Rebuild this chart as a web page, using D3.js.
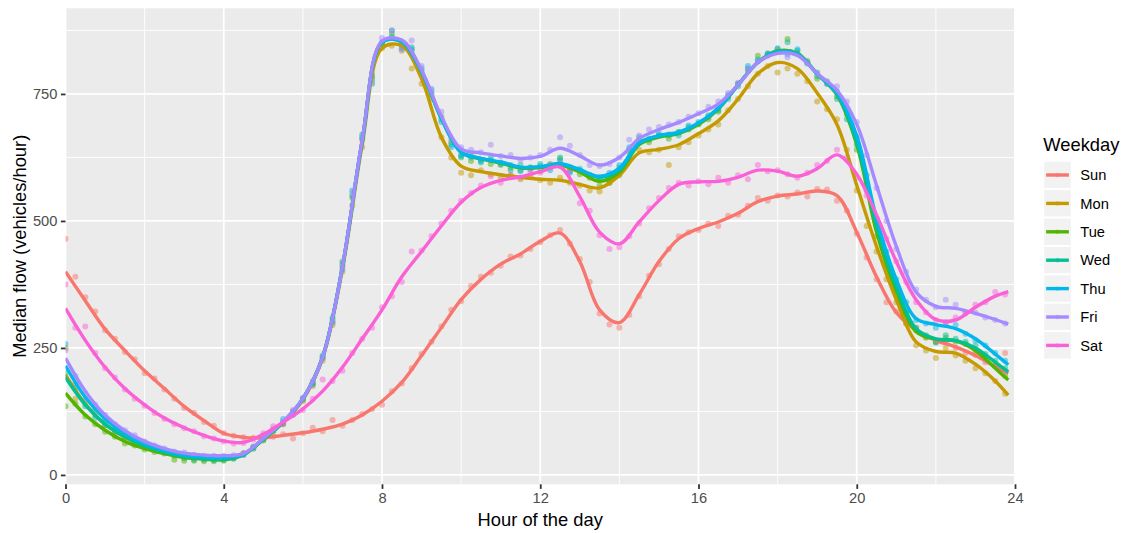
<!DOCTYPE html>
<html><head><meta charset="utf-8">
<script src="https://cdn.jsdelivr.net/npm/d3@7"></script>
<style>body{margin:0;background:#fff}</style>
</head><body>
<svg id="c" width="1125" height="533"></svg>
<script>
const days = ["Sun","Mon","Tue","Wed","Thu","Fri","Sat"];
const dayColors = ["#F8766D","#C49A00","#53B400","#00C094","#00B6EB","#A58AFF","#FB61D7"];
const xTicks = [0,4,8,12,16,20,24];
const yTicks = [0,250,500,750];
const xMinor = [2,6,10,14,18,22];
const yMinor = [125,375,625,875];

const smoothHours = [0,0.5,1,1.5,2,2.5,3,3.5,4,4.5,5,5.5,6,6.5,7,7.5,8,8.5,9,9.5,10,10.5,11,11.5,12,12.5,13,13.5,14,14.5,15,15.5,16,16.5,17,17.5,18,18.5,19,19.5,20,20.5,21,21.5,22,22.5,23,23.5,23.83];
const pointHours = [0,0.25,0.5,0.75,1,1.25,1.5,1.75,2,2.25,2.5,2.75,3,3.25,3.5,3.75,4,4.25,4.5,4.75,5,5.25,5.5,5.75,6,6.25,6.5,6.75,7,7.25,7.5,7.75,8,8.25,8.5,8.75,9,9.25,9.5,9.75,10,10.25,10.5,10.75,11,11.25,11.5,11.75,12,12.25,12.5,12.75,13,13.25,13.5,13.75,14,14.25,14.5,14.75,15,15.25,15.5,15.75,16,16.25,16.5,16.75,17,17.25,17.5,17.75,18,18.25,18.5,18.75,19,19.25,19.5,19.75,20,20.25,20.5,20.75,21,21.25,21.5,21.75,22,22.25,22.5,22.75,23,23.25,23.5,23.75];

// smoothed lines (median flow, vehicles/hour)
const smoothSun = [400,343,287,245,205,170,135,107,82,74, 73,78,83,90,100,118,145,182,235,290, 345,385,415,435,460,476,420,325,300,355, 420,465,485,498,515,538,549,553,559,550, 478,390,320,285,265,252,235,213,200];
const smoothMon = [197,140,100,74,57,45,37,33,32,40, 70,103,148,230,405,650,840,845,780,665, 608,597,591,586,582,580,572,565,590,634, 641,650,672,697,740,790,812,800,752,690, 570,450,345,262,243,240,218,185,157];
const smoothTue = [161,118,88,66,52,42,34,31,30,40, 70,103,150,233,410,658,852,855,794,702, 635,622,614,604,605,610,596,578,596,650, 665,672,690,720,768,812,835,830,790,748, 650,478,362,282,267,264,245,210,187];
const smoothWed = [192,138,100,75,57,45,36,32,31,40, 71,104,150,232,410,658,852,853,794,702, 636,623,615,605,606,612,600,586,600,652, 667,673,692,722,768,812,834,829,789,750, 655,490,370,288,268,265,250,222,203];
const smoothThu = [215,153,110,81,61,48,39,35,34,41, 71,104,150,232,410,658,852,853,794,702, 635,623,616,606,607,613,601,588,604,654, 668,675,693,722,768,812,832,828,790,752, 668,505,385,308,296,288,268,238,217];
const smoothFri = [230,165,118,87,66,52,43,39,38,42, 72,105,150,232,410,660,854,856,797,706, 642,634,628,623,627,643,628,610,625,662, 680,694,711,730,768,812,830,826,790,757, 690,570,450,360,332,328,318,306,297];
const smoothSat = [328,265,212,170,138,112,93,78,67,64, 80,104,130,165,212,268,325,390,440,490, 537,566,580,587,597,606,548,478,455,498, 540,572,577,578,586,600,598,588,603,630, 592,512,420,345,306,305,330,352,361];

// observed points (every 15 minutes)
const pointsSun = [465,390,350,322,285,268,242,228,200,190,168,150, 132,122,104,97,82,77,74,73,72,75,80,72, 82,93,86,108,97,108,120,130,138,165,180,210, 238,262,292,325,342,372,390,398,412,430,432,445, 458,472,482,455,425,380,318,296,290,315,352,392, 415,445,470,478,482,495,490,510,512,530,545,540, 550,548,556,548,563,562,540,520,475,428,385,340, 322,298,290,272,262,262,250,240,236,222,215,240];
const pointsMon = [250,150,140,118,98,85,72,62,55,50,44,40, 35,34,32,31,32,36,42,52,70,88,102,120, 145,175,225,295,400,530,645,790,840,845,835,800, 770,740,665,625,595,590,600,592,585,590,582,588, 580,575,585,575,570,560,558,575,595,625,640,635, 640,610,645,655,668,680,690,718,740,765,790,805, 792,800,790,775,735,720,700,640,560,490,440,385, 340,298,255,245,230,250,235,225,210,200,185,160];
const pointsTue = [135,140,115,100,85,75,62,58,50,45,42,30, 28,28,27,27,28,32,42,55,68,85,100,125, 148,180,230,300,415,545,660,780,850,868,845,835, 790,748,705,655,628,618,620,612,610,605,600,605, 598,612,622,605,592,585,570,575,590,635,660,655, 668,662,675,680,690,700,715,745,770,795,825,828, 838,858,830,815,780,770,745,710,640,560,470,410, 360,318,285,270,262,270,262,258,245,230,215,195];
const pointsWed = [200,170,135,112,98,86,74,64,56,50,44,38, 33,30,30,29,30,33,40,55,72,88,104,122, 150,182,232,310,420,550,665,770,848,875,850,842, 795,752,700,650,625,632,615,625,612,600,610,602, 612,605,625,598,600,590,582,580,605,640,665,660, 668,670,668,685,692,708,718,740,765,800,818,828, 832,852,835,810,785,775,740,700,650,570,490,420, 370,320,290,275,260,275,268,262,255,238,225,210];
const pointsThu = [258,180,150,128,108,96,80,70,62,55,48,42, 38,35,34,33,34,35,40,52,70,88,110,118, 150,178,235,305,405,560,670,785,852,862,840,838, 800,758,695,645,630,625,618,620,615,610,598,605, 608,600,618,595,603,590,585,595,610,645,655,662, 672,668,675,688,695,705,722,748,770,805,815,830, 840,828,838,812,792,770,755,715,665,590,505,440, 385,340,305,298,290,300,295,278,265,255,240,225];
const pointsFri = [245,195,162,138,118,100,88,78,66,58,52,46, 44,40,38,38,38,39,43,56,75,90,105,128, 152,185,230,300,410,555,662,775,860,875,838,855, 805,760,715,660,645,640,635,650,628,630,620,625, 630,640,665,648,630,610,608,612,625,660,668,680, 685,690,695,705,712,725,735,752,772,800,815,825, 835,822,828,812,790,772,765,735,695,630,565,500, 445,400,365,345,330,345,335,320,320,310,305,298];
const pointsSat = [375,290,292,240,210,192,168,150,136,122,110,100, 92,86,76,72,66,62,63,70,82,96,100,125, 128,150,188,185,205,240,268,290,330,352,380,440, 442,470,495,520,540,555,570,588,575,590,585,598, 595,610,612,600,535,520,472,445,448,470,495,525, 545,565,575,570,578,572,585,575,590,582,610,598, 600,592,585,595,610,618,640,625,585,550,505,465, 420,380,340,320,305,300,310,318,335,340,360,355];

const smoothByDay = [smoothSun,smoothMon,smoothTue,smoothWed,smoothThu,smoothFri,smoothSat];
const pointsByDay = [pointsSun,pointsMon,pointsTue,pointsWed,pointsThu,pointsFri,pointsSat];

const FONT = "'Liberation Sans', Arial, sans-serif";
const svg = d3.select("#c").style("font-family", FONT);
const L = 65.5, R = 1015, T = 8.3, B = 484.3;
const x = d3.scaleLinear().domain([0,24]).range([L,R]);
const y = d3.scaleLinear().domain([-18.4,918.6]).range([B,T]);

svg.append("rect").attr("x",L).attr("y",T).attr("width",R-L).attr("height",B-T).attr("fill","#EBEBEB");
const grid = svg.append("g");
grid.selectAll(".xm").data(xMinor).join("line").attr("x1",d=>x(d)).attr("x2",d=>x(d)).attr("y1",T).attr("y2",B).attr("stroke","#fff").attr("stroke-width",0.9);
grid.selectAll(".ym").data(yMinor).join("line").attr("y1",d=>y(d)).attr("y2",d=>y(d)).attr("x1",L).attr("x2",R).attr("stroke","#fff").attr("stroke-width",0.9);
grid.selectAll(".xM").data(xTicks).join("line").attr("x1",d=>x(d)).attr("x2",d=>x(d)).attr("y1",T).attr("y2",B).attr("stroke","#fff").attr("stroke-width",1.8);
grid.selectAll(".yM").data(yTicks).join("line").attr("y1",d=>y(d)).attr("y2",d=>y(d)).attr("x1",L).attr("x2",R).attr("stroke","#fff").attr("stroke-width",1.8);

const clip = svg.append("clipPath").attr("id","pc").append("rect").attr("x",L).attr("y",T).attr("width",R-L).attr("height",B-T);
const plot = svg.append("g").attr("clip-path","url(#pc)");

// points layer
days.forEach((d,i)=>{
  plot.append("g").selectAll("circle").data(pointsByDay[i]).join("circle")
    .attr("cx",(v,j)=>x(pointHours[j])).attr("cy",v=>y(v)).attr("r",3)
    .attr("fill",dayColors[i]).attr("fill-opacity",0.5);
});
// smooth layer
const line = d3.line().x((v,j)=>x(smoothHours[j])).y(v=>y(v)).curve(d3.curveCatmullRom.alpha(0.5));
days.forEach((d,i)=>{
  plot.append("path").datum(smoothByDay[i]).attr("d",line).attr("fill","none")
    .attr("stroke",dayColors[i]).attr("stroke-width",3.4).attr("stroke-linejoin","round").attr("stroke-linecap","butt");
});

// axes
const ax = svg.append("g").attr("transform",`translate(0,${B})`)
  .call(d3.axisBottom(x).tickValues(xTicks).tickSize(4.6).tickPadding(3.5).tickFormat(d3.format("d")));
const ay = svg.append("g").attr("transform",`translate(${L},0)`)
  .call(d3.axisLeft(y).tickValues(yTicks).tickSize(4.6).tickPadding(3.5).tickFormat(d3.format("d")));
[ax,ay].forEach(a=>{
  a.select(".domain").remove();
  a.selectAll(".tick line").attr("stroke","#333333").attr("stroke-width",1.8);
  a.selectAll(".tick text").attr("fill","#4D4D4D").style("font-size","14.67px").style("font-family",FONT);
});

svg.append("text").attr("x",(L+R)/2).attr("y",526).attr("text-anchor","middle")
  .style("font-size","18.33px").attr("fill","#000").text("Hour of the day");
svg.append("text").attr("transform",`translate(25.5,${(T+B)/2}) rotate(-90)`).attr("text-anchor","middle")
  .style("font-size","18.33px").attr("fill","#000").text("Median flow (vehicles/hour)");

// legend
const lg = svg.append("g").attr("transform","translate(1043.3,0)");
lg.append("text").attr("x",0).attr("y",151).style("font-size","18.33px").attr("fill","#000").text("Weekday");
const keyH = 28.4, key0 = 160.8;
days.forEach((d,i)=>{
  const g = lg.append("g").attr("transform",`translate(0,${key0+i*keyH})`);
  g.append("rect").attr("width",keyH).attr("height",keyH).attr("fill","#F2F2F2").attr("stroke","#fff").attr("stroke-width",1.8);
  g.append("line").attr("x1",keyH*0.1).attr("x2",keyH*0.9).attr("y1",keyH/2).attr("y2",keyH/2)
    .attr("stroke",dayColors[i]).attr("stroke-width",3.4);
  g.append("circle").attr("cx",keyH/2).attr("cy",keyH/2).attr("r",2.2).attr("fill",dayColors[i]).attr("fill-opacity",0.5);
  g.append("text").attr("x",37).attr("y",keyH/2).attr("dy","0.36em").style("font-size","14.67px").attr("fill","#000").text(d);
});
</script>
</body></html>
